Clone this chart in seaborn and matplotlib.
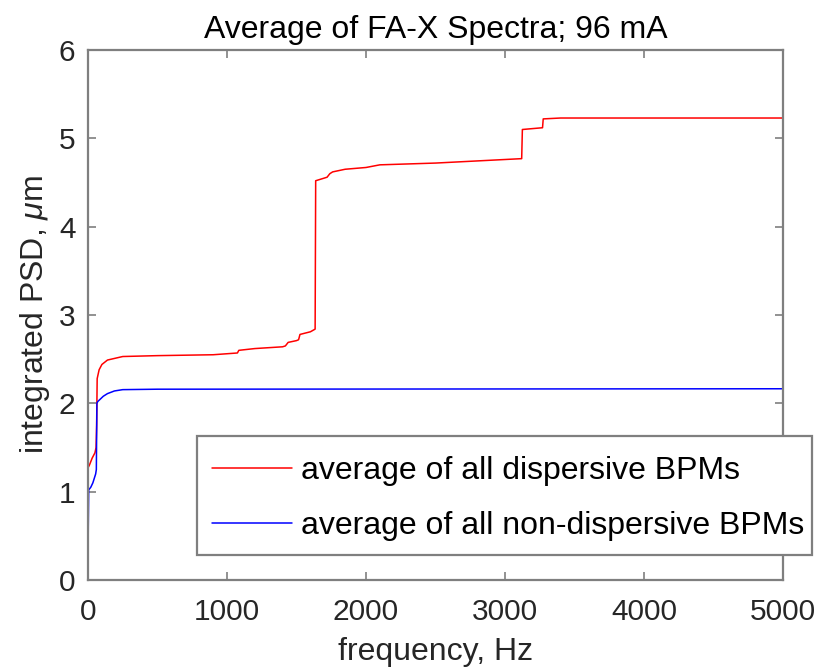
import matplotlib
matplotlib.use("Agg")
import matplotlib.pyplot as plt
from matplotlib.patches import Rectangle
import seaborn as sns
import pandas as pd

# ---- data ----
disp_freq = [0, 10, 30, 50, 58, 62, 66, 80, 100, 140, 250, 500, 900, 1075, 1085,
             1200, 1400, 1420, 1440, 1500, 1515, 1525, 1600, 1634, 1638, 1700, 1720,
             1740, 1760, 1850, 2000, 2100, 2500, 3120, 3125, 3270, 3275, 3400, 5000]
disp_vals = [1.27, 1.30, 1.38, 1.44, 1.50, 1.75, 2.28, 2.38, 2.44, 2.49, 2.53, 2.54, 2.55, 2.57, 2.60,
             2.62, 2.64, 2.65, 2.69, 2.71, 2.72, 2.78, 2.81, 2.84, 4.52, 4.55, 4.56,
             4.60, 4.62, 4.65, 4.67, 4.70, 4.72, 4.77, 5.10, 5.12, 5.22, 5.23, 5.23]

nondisp_freq = [0, 2, 5, 20, 35, 45, 55, 60, 64, 70, 90, 110, 140, 190, 250, 500, 5000]
nondisp_vals = [0.0, 0.6, 1.02, 1.05, 1.10, 1.15, 1.20, 1.25, 2.00, 2.02, 2.05, 2.08, 2.11, 2.14, 2.155, 2.16, 2.165]

labels = ["average of all dispersive BPMs", "average of all non-dispersive BPMs"]
colors = ["#ff0000", "#0000ff"]

df = pd.concat([
    pd.DataFrame({"freq": disp_freq, "psd": disp_vals, "series": labels[0]}),
    pd.DataFrame({"freq": nondisp_freq, "psd": nondisp_vals, "series": labels[1]}),
], ignore_index=True)

sns.set_theme(style="white")
plt.rcParams["font.family"] = ["Liberation Sans", "DejaVu Sans"]
plt.rcParams["mathtext.fontset"] = "custom"
plt.rcParams["mathtext.it"] = "Liberation Sans:italic"

fig = plt.figure(figsize=(8.29, 6.69), dpi=100)
ax = fig.add_axes([88 / 829, 1 - 580 / 669, 695 / 829, 530 / 669])

sns.lineplot(data=df, x="freq", y="psd", hue="series", palette=dict(zip(labels, colors)),
             estimator=None, sort=False, linewidth=1.1, ax=ax)

ax.set_xlim(0, 5000)
ax.set_ylim(0, 6)
ax.set_xticks([0, 1000, 2000, 3000, 4000, 5000])
ax.set_yticks([0, 1, 2, 3, 4, 5, 6])

gray = "#7f7f7f"
txt = "#262626"
for s in ax.spines.values():
    s.set_visible(True)
    s.set_color(gray)
    s.set_linewidth(1.6)
ax.tick_params(direction="in", length=6, width=1.2, color=gray, labelcolor=txt,
               labelsize=21.5, top=True, right=True, bottom=True, left=True)
ax.tick_params(axis="x", pad=13)
ax.tick_params(axis="y", pad=9)

ax.set_title("Average of FA-X Spectra; 96 mA", fontsize=23, color="#000000", pad=8.5)
ax.set_xlabel("frequency, Hz", fontsize=23, color=txt, labelpad=8)
ax.set_ylabel("integrated PSD, $\\mu$m", fontsize=23, color=txt, labelpad=5)

# legend frame (MATLAB-like box, wider horizontally than matplotlib's padding)
frame = Rectangle((0.1568, 0.0472), 0.885, 0.2245, transform=ax.transAxes,
                  facecolor="white", edgecolor=gray, linewidth=1.6,
                  clip_on=False, zorder=4.5)
ax.add_patch(frame)

leg = ax.legend(loc="lower left", bbox_to_anchor=(0.1784, 0.0733), fontsize=23,
                frameon=False, handlelength=2.5, handletextpad=0.3,
                labelspacing=0.78, borderpad=0.0, borderaxespad=0)
leg.set_zorder(5)
for t in leg.get_texts():
    t.set_color("#000000")

fig.savefig("out.png", dpi=100)
